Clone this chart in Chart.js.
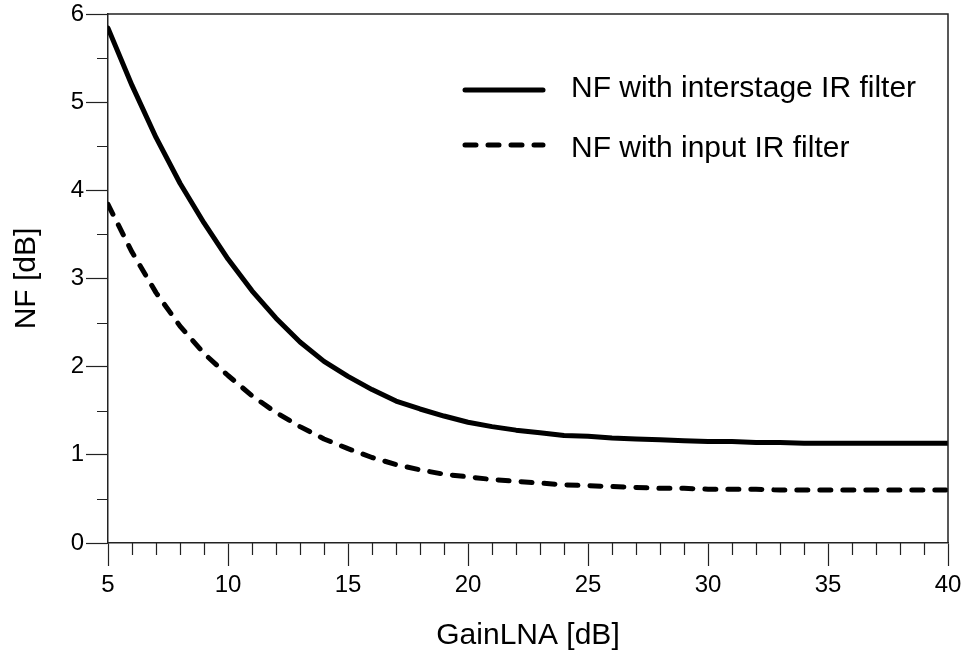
<!DOCTYPE html>
<html>
<head>
<meta charset="utf-8">
<title>NF versus LNA gain</title>
<script src="https://cdn.jsdelivr.net/npm/chart.js@4/dist/chart.umd.min.js"></script>
<style>
  html, body { margin: 0; padding: 0; background: #fff; }
  canvas { display: block; }
</style>
</head>
<body>
<canvas id="nf" width="964" height="657"></canvas>
<script>
// LNA gain sweep [dB]
const gainLna = [5, 6, 7, 8, 9, 10, 11, 12, 13, 14, 15, 16, 17, 18, 19, 20, 21, 22, 23, 24,
                 25, 26, 27, 28, 29, 30, 31, 32, 33, 34, 35, 36, 37, 38, 39, 40];
// Noise figure with the image-reject filter between stages [dB]
const nfInterstage = [5.84, 5.19, 4.60, 4.08, 3.63, 3.22, 2.86, 2.55, 2.28, 2.06, 1.89, 1.74, 1.61, 1.52, 1.44, 1.37,
                      1.32, 1.28, 1.25, 1.22, 1.21, 1.19, 1.18, 1.17, 1.16, 1.15, 1.15, 1.14, 1.14, 1.13, 1.13, 1.13,
                      1.13, 1.13, 1.13, 1.13];
// Noise figure with the image-reject filter at the input [dB]
const nfInput = [3.84, 3.30, 2.84, 2.46, 2.15, 1.90, 1.67, 1.48, 1.32, 1.18, 1.07, 0.97, 0.89, 0.83, 0.78, 0.75,
                 0.72, 0.70, 0.68, 0.66, 0.65, 0.64, 0.63, 0.62, 0.62, 0.61, 0.61, 0.61, 0.60, 0.60, 0.60, 0.60,
                 0.60, 0.60, 0.60, 0.60];
const seriesNames = ['NF with interstage IR filter', 'NF with input IR filter'];
const xTitle = 'GainLNA [dB]';
const yTitle = 'NF [dB]';

const FONT = '"Liberation Sans", Arial, Helvetica, sans-serif';
const AXIS_COLOR = '#222';

function points(xs, ys) {
  return xs.map((x, i) => ({ x: x, y: ys[i] }));
}

// Frame, minor ticks and the in-plot legend
const framePlugin = {
  id: 'frameAndMinorTicks',
  afterDraw(chart) {
    const { ctx, chartArea: a, scales: { x, y } } = chart;
    ctx.save();
    ctx.strokeStyle = AXIS_COLOR;
    ctx.lineWidth = 1.5;
    // top and right edges of the plot box
    ctx.beginPath();
    ctx.moveTo(a.left, a.top);
    ctx.lineTo(a.right, a.top);
    ctx.lineTo(a.right, a.bottom);
    ctx.stroke();
    // minor ticks
    ctx.lineWidth = 1.2;
    ctx.beginPath();
    for (let v = x.min; v <= x.max; v += 1) {
      if (v % 5 === 0) continue;
      const px = Math.round(x.getPixelForValue(v)) + 0.5;
      ctx.moveTo(px, a.bottom);
      ctx.lineTo(px, a.bottom + 12);
    }
    for (let v = y.min + 0.5; v < y.max; v += 1) {
      const py = Math.round(y.getPixelForValue(v)) + 0.5;
      ctx.moveTo(a.left, py);
      ctx.lineTo(a.left - 11, py);
    }
    ctx.stroke();

    // legend
    const rows = [
      { lineY: 90, textY: 97 },
      { lineY: 145, textY: 157 }
    ];
    chart.data.datasets.forEach((ds, i) => {
      const r = rows[i];
      ctx.save();
      ctx.strokeStyle = ds.borderColor;
      ctx.lineWidth = ds.borderWidth;
      ctx.lineCap = 'round';
      ctx.setLineDash(ds.borderDash || []);
      ctx.beginPath();
      ctx.moveTo(465, r.lineY);
      ctx.lineTo(543, r.lineY);
      ctx.stroke();
      ctx.restore();
      ctx.fillStyle = '#000';
      ctx.font = '30px ' + FONT;
      ctx.textBaseline = 'alphabetic';
      ctx.textAlign = 'left';
      ctx.fillText(ds.label, 571, r.textY);
    });
    ctx.restore();
  }
};

new Chart(document.getElementById('nf'), {
  type: 'line',
  data: {
    datasets: [
      {
        label: seriesNames[0],
        data: points(gainLna, nfInterstage),
        borderColor: '#000',
        borderWidth: 5,
        borderCapStyle: 'round',
        borderJoinStyle: 'round',
        pointRadius: 0,
        tension: 0,
        fill: false
      },
      {
        label: seriesNames[1],
        data: points(gainLna, nfInput),
        borderColor: '#000',
        borderWidth: 5,
        borderDash: [11, 12],
        borderCapStyle: 'round',
        borderJoinStyle: 'round',
        pointRadius: 0,
        tension: 0,
        fill: false
      }
    ]
  },
  options: {
    responsive: false,
    animation: false,
    devicePixelRatio: 1,
    layout: { padding: { top: 14, right: 16, left: 0, bottom: 0 } },
    plugins: {
      legend: { display: false },
      tooltip: { enabled: false }
    },
    scales: {
      x: {
        type: 'linear',
        min: 5,
        max: 40,
        afterFit(scale) {
          scale.height = 114;
          scale.paddingLeft = 0;
          scale.paddingRight = 0;
        },
        ticks: {
          stepSize: 5,
          color: '#000',
          font: { family: FONT, size: 24 },
          padding: 5,
          maxRotation: 0
        },
        grid: {
          drawOnChartArea: false,
          drawTicks: true,
          tickLength: 23,
          tickWidth: 1.2,
          tickColor: AXIS_COLOR
        },
        border: { display: true, color: AXIS_COLOR, width: 1.5 },
        title: {
          display: true,
          text: xTitle,
          color: '#000',
          font: { family: FONT, size: 30 },
          padding: { top: 0, bottom: 3 }
        }
      },
      y: {
        type: 'linear',
        min: 0,
        max: 6,
        afterFit(scale) {
          scale.width = 108;
          scale.paddingTop = 0;
          scale.paddingBottom = 0;
        },
        ticks: {
          stepSize: 1,
          color: '#000',
          font: { family: FONT, size: 24 },
          padding: 2
        },
        grid: {
          drawOnChartArea: false,
          drawTicks: true,
          tickLength: 22,
          tickWidth: 1.2,
          tickColor: AXIS_COLOR
        },
        border: { display: true, color: AXIS_COLOR, width: 1.5 },
        title: {
          display: true,
          text: yTitle,
          color: '#000',
          font: { family: FONT, size: 30 },
          padding: { top: 9, bottom: 0 }
        }
      }
    }
  },
  plugins: [framePlugin]
});
</script>
</body>
</html>
